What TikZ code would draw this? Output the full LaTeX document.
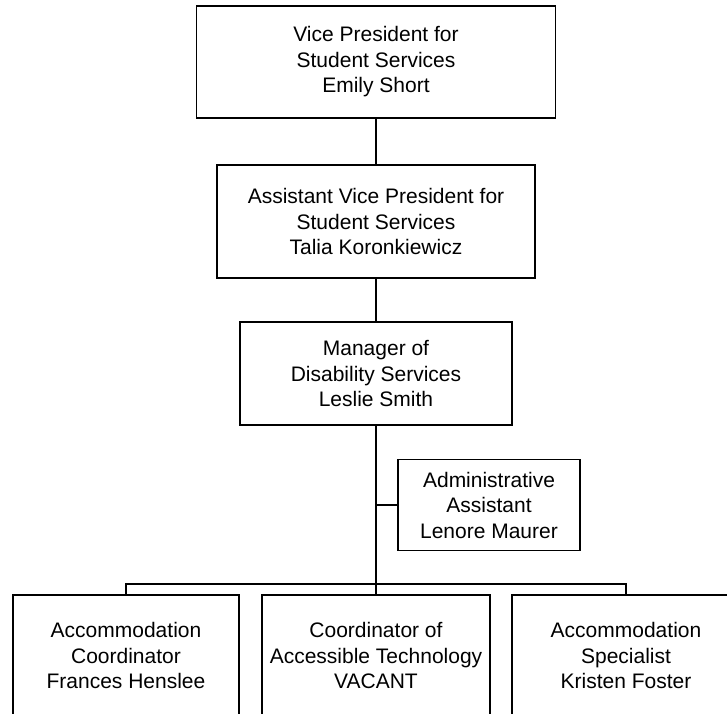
\documentclass[tikz,border=0pt]{standalone}
\usepackage{fontspec}
\setmainfont{Liberation Sans}
\begin{document}
\begin{tikzpicture}[x=1pt,y=-1pt,
  orgbox/.style={draw=black, line width=1.3pt, fill=white, inner sep=0pt, align=center,
    font=\fontsize{21}{25.5}\selectfont, text=black},
  link/.style={draw=black, line width=1.3pt}]
\useasboundingbox (0,0) rectangle (727,713);
\clip (0,0) rectangle (727,713);
\node[orgbox, minimum width=359pt, minimum height=112pt] (vp) at (376,62)
  {Vice President for\\Student Services\\Emily Short};
\node[orgbox, minimum width=318pt, minimum height=113pt] (avp) at (376,221.5)
  {Assistant Vice President for\\Student Services\\Talia Koronkiewicz};
\node[orgbox, minimum width=272pt, minimum height=103pt] (mgr) at (376,373.5)
  {Manager of\\Disability Services\\Leslie Smith};
\node[orgbox, minimum width=182pt, minimum height=91pt] (admin) at (489,505)
  {Administrative\\Assistant\\Lenore Maurer};
\node[orgbox, minimum width=226pt, minimum height=121pt] (b1) at (126,655.5)
  {Accommodation\\Coordinator\\Frances Henslee};
\node[orgbox, minimum width=228pt, minimum height=121pt] (b2) at (376,655.5)
  {Coordinator of\\Accessible Technology\\VACANT};
\node[orgbox, minimum width=228pt, minimum height=121pt] (b3) at (626,655.5)
  {Accommodation\\Specialist\\Kristen Foster};
\coordinate (bar) at (376,584);
\draw[link] (vp) -- (avp);
\draw[link] (avp) -- (mgr);
\draw[link] (mgr.south) -- (b2.north);
\draw[link] (admin.west) -- (admin.west -| mgr.south);
\draw[link] (b1.north) -- (b1.north |- bar) -- (b3.north |- bar) -- (b3.north);
\end{tikzpicture}
\end{document}
